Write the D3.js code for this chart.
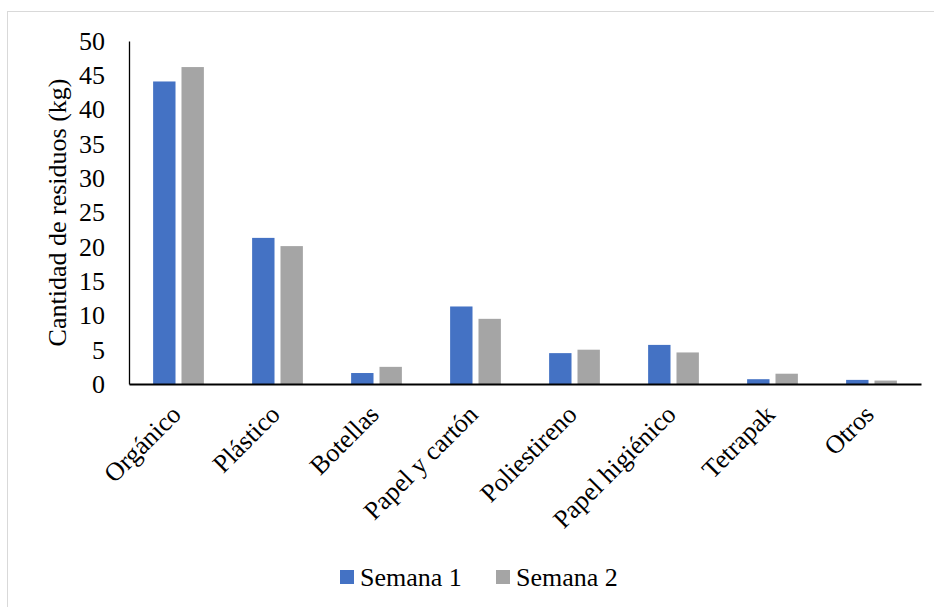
<!doctype html>
<html lang="es">
<head>
<meta charset="utf-8">
<script src="https://d3js.org/d3.v7.min.js"></script>
<style>
  body { margin: 0; background: #fff; }
  text { font-family: "Liberation Serif", "Times New Roman", serif; fill: #000; }
</style>
</head>
<body>
<svg id="svg1" width="934" height="607"></svg>
<script>
  // datos
  let categories = ["Orgánico", "Plástico", "Botellas", "Papel y cartón", "Poliestireno", "Papel higiénico", "Tetrapak", "Otros"];
  let semana1 = [44.1, 21.3, 1.6, 11.3, 4.5, 5.7, 0.7, 0.6];
  let semana2 = [46.2, 20.1, 2.5, 9.5, 5.0, 4.6, 1.5, 0.5];
  let seriesNames = ["Semana 1", "Semana 2"];
  let yTicks = [0, 5, 10, 15, 20, 25, 30, 35, 40, 45, 50];

  let colors = ["#4472C4", "#A5A5A5"];
  let margin = { top: 41, left: 129, right: 13, bottom: 223 };
  let width = 934, height = 607;
  let fs = 26;

  let svg = d3.select("#svg1");

  // marco del grafico
  svg.append("rect")
    .attr("x", 7.5).attr("y", 11.5)
    .attr("width", 940).attr("height", 610)
    .attr("fill", "none")
    .attr("stroke", "#d9d9d9");

  let xScale = d3.scaleBand()
    .domain(categories)
    .range([margin.left, width - margin.right]);

  let x1 = d3.scaleBand()
    .domain(seriesNames)
    .range([0, xScale.bandwidth()])
    .paddingInner(0.211)
    .paddingOuter(0.85);

  let yScale = d3.scaleLinear()
    .domain([0, 50])
    .range([height - margin.bottom, margin.top]);

  let data = categories.map((c, i) => ({ cat: c, vals: [semana1[i], semana2[i]] }));

  let groups = svg.append("g").selectAll("g")
    .data(data)
    .join("g")
    .attr("transform", d => `translate(${xScale(d.cat)},0)`);

  groups.selectAll("rect")
    .data(d => d.vals.map((v, i) => ({ key: seriesNames[i], v: v, i: i })))
    .join("rect")
    .attr("x", d => x1(d.key))
    .attr("width", x1.bandwidth())
    .attr("y", d => yScale(d.v))
    .attr("height", d => yScale(0) - yScale(d.v))
    .attr("fill", d => colors[d.i]);

  // eje y
  let yAxis = svg.append("g")
    .attr("transform", `translate(${margin.left},0)`)
    .call(d3.axisLeft(yScale).tickValues(yTicks).tickSize(0).tickPadding(24));
  yAxis.select(".domain").attr("stroke", "#000").attr("stroke-width", 1.3);
  yAxis.selectAll(".tick text")
    .attr("font-size", fs)
    .attr("font-family", "Liberation Serif");

  // eje x
  let xAxis = svg.append("g")
    .attr("transform", `translate(0,${yScale(0)})`)
    .call(d3.axisBottom(xScale).tickSize(0).tickPadding(0));
  xAxis.select(".domain").attr("stroke", "#000").attr("stroke-width", 2);
  xAxis.selectAll(".tick text")
    .attr("font-size", fs)
    .attr("font-family", "Liberation Serif")
    .attr("text-anchor", "end")
    .attr("dy", 0)
    .attr("transform", "translate(4,32) rotate(-45)");

  // titulo eje y
  svg.append("text")
    .attr("transform", `translate(66,${(yScale(0) + yScale(50)) / 2}) rotate(-90)`)
    .attr("text-anchor", "middle")
    .attr("font-size", fs)
    .text("Cantidad de residuos (kg)");

  // leyenda
  let legendX = [340, 496];
  let legend = svg.append("g").selectAll("g")
    .data(seriesNames)
    .join("g")
    .attr("transform", (d, i) => `translate(${legendX[i]},570)`);
  legend.append("rect")
    .attr("width", 14).attr("height", 14)
    .attr("fill", (d, i) => colors[i]);
  legend.append("text")
    .attr("x", 20).attr("y", 16)
    .attr("font-size", fs)
    .text(d => d);
</script>
</body>
</html>
